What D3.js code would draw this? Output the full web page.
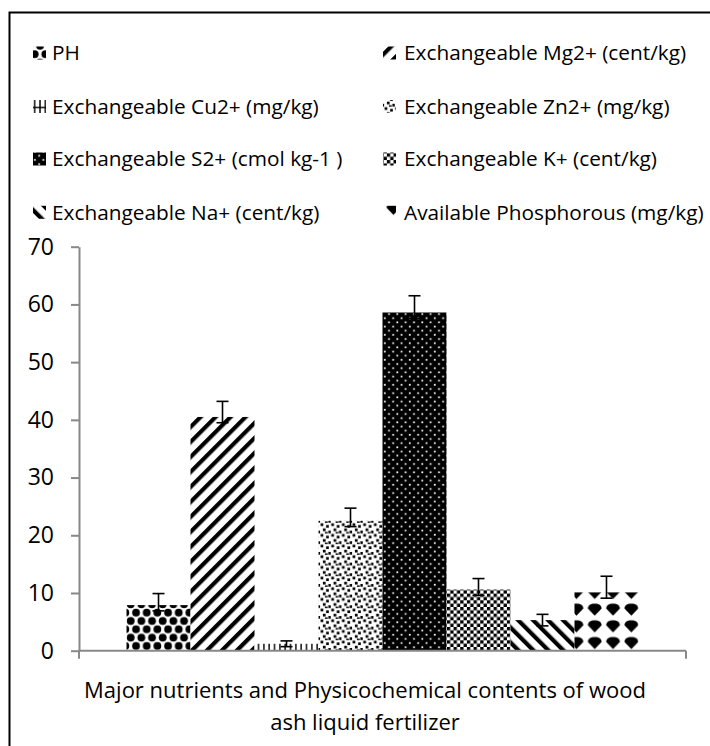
<!DOCTYPE html>
<html><head><meta charset="utf-8">
<script src="https://cdn.jsdelivr.net/npm/d3@7/dist/d3.min.js"></script>
<style>body{margin:0;background:#fff}svg{display:block}text{font-family:"Open Sans",sans-serif;fill:#000}</style>
</head><body>
<svg id="c" width="710" height="746"></svg>
<script>
const categories = ["PH","Exchangeable Mg2+ (cent/kg)","Exchangeable Cu2+ (mg/kg)","Exchangeable Zn2+ (mg/kg)","Exchangeable S2+ (cmol kg-1 )","Exchangeable K+ (cent/kg)","Exchangeable Na+ (cent/kg)","Available Phosphorous (mg/kg)"];
const values = [7.9, 40.5, 1.2, 22.5, 58.6, 10.6, 5.3, 10.1];
const errPlus = [2.0, 2.7, 0.5, 2.2, 2.9, 1.9, 1.0, 2.8];
const errMinus = [1.0, 1.0, 0.5, 1.0, 1.0, 1.0, 1.0, 1.0];
const yTicks = [0,10,20,30,40,50,60,70];
const groupLabel = ["Major nutrients and Physicochemical contents of wood","ash liquid fertilizer"];
const patternIds = ["pPH","pMg","pCu","pZn","pS","pK","pNa","pP"];

const svg = d3.select("#c");
const defs = svg.append("defs");
function pat(id, w, h, tr){ const p = defs.append("pattern").attr("id",id).attr("patternUnits","userSpaceOnUse").attr("width",w).attr("height",h); if(tr) p.attr("patternTransform",tr); p.append("rect").attr("width",w).attr("height",h).attr("fill","#fff"); return p; }
let p;
p = pat("pPH",10.67,16.67);
p.append("circle").attr("cx",2.67).attr("cy",4.17).attr("r",3.9).attr("fill","#000");
p.append("circle").attr("cx",8).attr("cy",12.5).attr("r",3.9).attr("fill","#000");
p.append("circle").attr("cx",-2.67).attr("cy",12.5).attr("r",3.9).attr("fill","#000");
p.append("circle").attr("cx",13.33).attr("cy",4.17).attr("r",3.9).attr("fill","#000");
p = pat("pMg",10.6,10.6,"rotate(45)");
p.append("rect").attr("x",0).attr("width",4.2).attr("height",10.6).attr("fill","#000");
p = pat("pCu",5.33,10.67);
p.append("rect").attr("x",2).attr("width",1.4).attr("height",10.67).attr("fill","#000");
p.append("rect").attr("y",0).attr("width",5.33).attr("height",1.4).attr("fill","#000");
p = pat("pZn",10.67,10.67);
[[0.5,0.5],[6,2.2],[2.8,5.6],[8.2,7.8],[4.8,9.2]].forEach(d=>p.append("rect").attr("x",d[0]).attr("y",d[1]).attr("width",2.7).attr("height",2.7).attr("fill","#000"));
p = pat("pS",8.33,8.33);
p.select("rect").attr("fill","#000");
p.append("rect").attr("x",0.8).attr("y",0.8).attr("width",1.7).attr("height",1.7).attr("fill","#fff");
p.append("rect").attr("x",4.97).attr("y",4.97).attr("width",1.7).attr("height",1.7).attr("fill","#fff");
p = pat("pK",6.67,6.67);
p.append("rect").attr("width",3.33).attr("height",3.33).attr("fill","#000");
p.append("rect").attr("x",3.33).attr("y",3.33).attr("width",3.33).attr("height",3.33).attr("fill","#000");
p = pat("pNa",10.6,10.6,"rotate(-45)");
p.append("rect").attr("x",0).attr("width",4.2).attr("height",10.6).attr("fill","#000");
p = pat("pP",18.3,16.7);
p.append("path").attr("d","M9.15 2.5 C13.5 2.5 16 4.5 16 7.3 L9.15 14.5 L2.3 7.3 C2.3 4.5 4.8 2.5 9.15 2.5 Z").attr("fill","#000");

// outer border
svg.append("rect").attr("x",9.5).attr("y",12.5).attr("width",720).attr("height",760).attr("fill","none").attr("stroke","#000").attr("stroke-width",2);

const x0 = 79, x1 = 686, yTop = 246.7, yBot = 650.7;
const y = d3.scaleLinear().domain([0,70]).range([yBot,yTop]);
const group = d3.scaleBand().domain(["g"]).range([x0,x1]).paddingInner(0).paddingOuter(0.0928);
const xb = d3.scaleBand().domain(categories).range([group("g"), group("g")+group.bandwidth()]).padding(0);

// y axis
const yAxis = d3.axisLeft(y).tickValues(yTicks).tickSize(8).tickSizeOuter(0).tickPadding(17);
const ga = svg.append("g").attr("transform",`translate(${x0},0)`).call(yAxis);
ga.select(".domain").attr("stroke","#888").attr("stroke-width",2);
ga.selectAll(".tick line").attr("stroke","#888").attr("stroke-width",2);
ga.selectAll(".tick text").style("font-size","23px").attr("font-family",null);

// bars
svg.append("g").selectAll("rect").data(categories).join("rect")
  .attr("x",d=>xb(d)).attr("width",xb.bandwidth())
  .attr("y",(d,i)=>y(values[i])).attr("height",(d,i)=>y(0)-y(values[i]))
  .attr("fill",(d,i)=>`url(#${patternIds[i]})`);

// x axis
const gx = svg.append("g").attr("transform",`translate(0,${yBot})`);
gx.append("line").attr("x1",x0).attr("x2",x1).attr("stroke","#888").attr("stroke-width",2);
[x0,x1].forEach(v=>gx.append("line").attr("x1",v).attr("x2",v).attr("y1",0).attr("y2",8).attr("stroke","#888").attr("stroke-width",2));

// error bars
const eb = svg.append("g").attr("stroke","#000").attr("stroke-width",1.6);
categories.forEach((c,i)=>{
  const cx = xb(c)+xb.bandwidth()/2;
  const yt = y(values[i]+errPlus[i]), yb2 = y(values[i]-errMinus[i]);
  eb.append("line").attr("x1",cx).attr("x2",cx).attr("y1",yt).attr("y2",yb2);
  eb.append("line").attr("x1",cx-6).attr("x2",cx+6).attr("y1",yt).attr("y2",yt);
  eb.append("line").attr("x1",cx-6).attr("x2",cx+6).attr("y1",yb2).attr("y2",yb2);
});

// title
svg.append("g").selectAll("text").data(groupLabel).join("text")
  .attr("x",365).attr("y",(d,i)=>698+i*32).attr("text-anchor","middle").style("font-size","22px").text(d=>d);

// legend
const rowsY = [53,106.5,159,212.3];
const lg = svg.append("g");
categories.forEach((c,i)=>{
  const col = i%2, row = Math.floor(i/2);
  const mx = col ? 383 : 33, tx = col ? 404 : 52, cy = rowsY[row];
  lg.append("rect").attr("x",mx).attr("y",cy-6.5).attr("width",13).attr("height",13).attr("fill",`url(#${patternIds[i]})`);
  lg.append("text").attr("x",tx).attr("y",cy).attr("dy","0.35em").style("font-size","20.8px").text(c);
});
</script>
</body></html>
